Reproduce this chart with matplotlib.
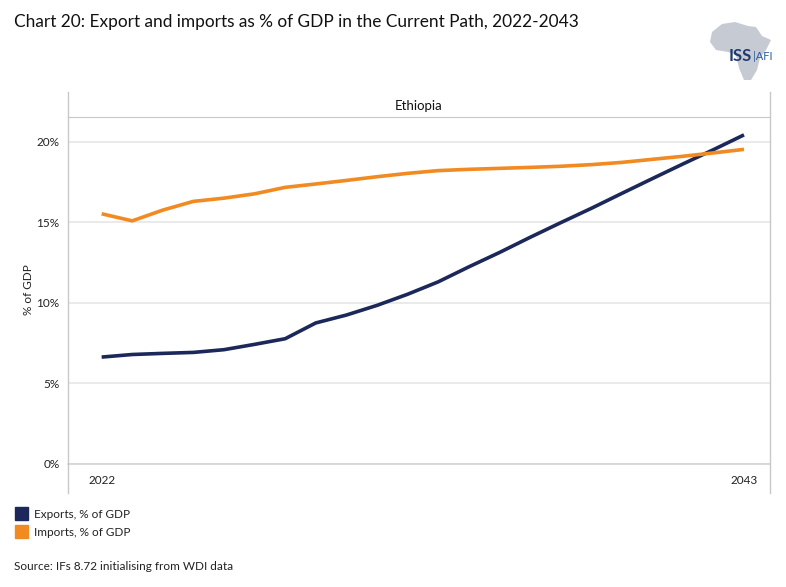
import matplotlib
matplotlib.use("Agg")
import matplotlib.pyplot as plt
from matplotlib.lines import Line2D
from matplotlib.patches import Rectangle, Polygon

plt.rcParams['font.family'] = ['Lato', 'DejaVu Sans']

years = list(range(2022, 2044))
exports = [6.64, 6.80, 6.87, 6.93, 7.10, 7.43, 7.78, 8.76, 9.25, 9.85, 10.54,
           11.31, 12.24, 13.13, 14.07, 14.98, 15.87, 16.80, 17.72, 18.63, 19.52, 20.44]
imports = [15.54, 15.10, 15.77, 16.31, 16.51, 16.78, 17.18, 17.39, 17.61, 17.84, 18.05,
           18.22, 18.30, 18.36, 18.42, 18.49, 18.59, 18.73, 18.92, 19.11, 19.32, 19.54]
yticks = [0, 5, 10, 15, 20]
ytick_labels = ['0%', '5%', '10%', '15%', '20%']
xticks = [2022, 2043]
series_names = ['Exports, % of GDP', 'Imports, % of GDP']
colors = ['#1b2859', '#f28a22']

W, H = 786, 587
fig = plt.figure(figsize=(W / 100, H / 100), dpi=100)

def fx(px):
    return px / W

def fy(py):
    return 1 - py / H

left, right, top, bottom = 68, 770, 117, 464
ax = fig.add_axes([fx(left), fy(bottom), fx(right) - fx(left), fy(top) - fy(bottom)])
ax.plot(years, exports, color=colors[0], lw=2.6, solid_capstyle='butt')
ax.plot(years, imports, color=colors[1], lw=2.6, solid_capstyle='butt')
ax.set_xlim(2020.9, 2043.85)
ax.set_ylim(0, 21.55)
ax.set_yticks(yticks)
ax.set_yticklabels(ytick_labels)
ax.set_xticks(xticks)
ax.set_xticklabels([str(x) for x in xticks])
ax.grid(axis='y', color='#e6e6e6', lw=1.2)
ax.set_axisbelow(True)
for s in ['left', 'right']:
    ax.spines[s].set_visible(False)
ax.spines['top'].set_color('#c8c8c8')
ax.spines['bottom'].set_color('#d2d2d2')
ax.spines['bottom'].set_linewidth(1.2)
ax.tick_params(axis='both', length=0, labelsize=8.5, colors='#222222')
ax.tick_params(axis='y', pad=6)
ax.tick_params(axis='x', pad=8)
fig.text(fx(29), fy(290), '% of GDP', rotation=90, ha='center', va='center', fontsize=8.5, color='#222222')

# frame verticals
for xv in (left, right):
    fig.add_artist(Line2D([fx(xv), fx(xv)], [fy(92), fy(493)], color='#c8c8c8', lw=1.0))
fig.text(fx(419), fy(106), 'Ethiopia', ha='center', va='center', fontsize=9.5, color='#111111')

fig.text(fx(14), fy(22), 'Chart 20: Export and imports as % of GDP in the Current Path, 2022-2043',
         ha='left', va='center', fontsize=12.4, color='#111111')

# legend
for i, (name, c) in enumerate(zip(series_names, colors)):
    y0 = 507 + i * 18
    fig.add_artist(Rectangle((fx(15), fy(y0 + 13)), fx(13), fy(0) - fy(13), color=c, transform=fig.transFigure))
    fig.text(fx(34), fy(y0 + 8), name, ha='left', va='center', fontsize=8.5, color='#222222')
fig.text(fx(14), fy(566), 'Source: IFs 8.72 initialising from WDI data', ha='left', va='center',
         fontsize=8.5, color='#222222')

# logo (approximate)
africa = [(712, 32), (722, 24), (735, 22), (748, 26), (756, 27), (762, 36), (771, 40), (766, 50),
          (760, 58), (757, 70), (751, 80), (744, 80), (739, 68), (736, 55), (728, 52), (716, 50), (710, 42)]
fig.add_artist(Polygon([(fx(x), fy(y)) for x, y in africa], closed=True, color='#c5cad3',
                       transform=fig.transFigure, lw=0))
fig.text(fx(729), fy(56), 'ISS', ha='left', va='center', fontsize=12, color='#1f3b6e', fontweight='bold')
fig.text(fx(753), fy(56), '|AFI', ha='left', va='center', fontsize=8, color='#2a5aa0')

fig.savefig('out.png', dpi=100)
